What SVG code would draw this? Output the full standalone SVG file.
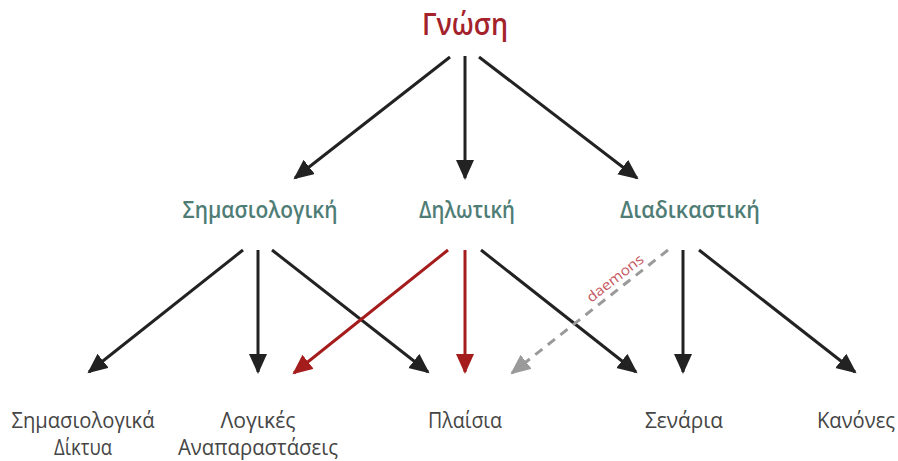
<svg xmlns="http://www.w3.org/2000/svg" width="898" height="461" viewBox="0 0 898 461">
  <style>
    text { font-family: "Open Sans", "Liberation Sans", sans-serif; text-anchor: middle; }
    .root { font-size: 30px; fill: #a3222b; font-weight: 600; }
    .mid { font-size: 23px; fill: #4f7d76; font-weight: 600; }
    .leaf { font-size: 21px; fill: #454545; }
    .lbl { font-size: 14px; fill: #c5575f; }
    .k { stroke: #222; stroke-width: 3; fill: none; }
    .r { stroke: #a51c1c; stroke-width: 3; fill: none; }
    .g { stroke: #9a9a9a; stroke-width: 3; fill: none; stroke-dasharray: 9 7; }
  </style>
  <defs>
    <marker id="ak" markerUnits="userSpaceOnUse" markerWidth="22" markerHeight="20" refX="18" refY="9" orient="auto">
      <path d="M0,0 L20,9 L0,18 Z" fill="#222"/>
    </marker>
    <marker id="ar" markerUnits="userSpaceOnUse" markerWidth="22" markerHeight="20" refX="18" refY="9" orient="auto">
      <path d="M0,0 L20,9 L0,18 Z" fill="#a51c1c"/>
    </marker>
    <marker id="ag" markerUnits="userSpaceOnUse" markerWidth="22" markerHeight="20" refX="18" refY="9" orient="auto">
      <path d="M0,0 L20,9 L0,18 Z" fill="#9a9a9a"/>
    </marker>
  </defs>

  <!-- connectors -->
  <g id="connectors">
    <line class="k" x1="450" y1="57" x2="295" y2="178" marker-end="url(#ak)"/>
    <line class="k" x1="465" y1="56" x2="465" y2="178" marker-end="url(#ak)"/>
    <line class="k" x1="479" y1="57" x2="637" y2="178" marker-end="url(#ak)"/>

    <line class="k" x1="243" y1="250" x2="89" y2="372" marker-end="url(#ak)"/>
    <line class="k" x1="258" y1="250" x2="258" y2="372" marker-end="url(#ak)"/>
    <line class="k" x1="272" y1="250" x2="428" y2="372" marker-end="url(#ak)"/>

    <line class="r" x1="448" y1="250" x2="294" y2="373" marker-end="url(#ar)"/>
    <line class="r" x1="465" y1="250" x2="465" y2="372" marker-end="url(#ar)"/>
    <line class="k" x1="481" y1="250" x2="636" y2="372" marker-end="url(#ak)"/>

    <line class="g" x1="668" y1="250" x2="512" y2="373" marker-end="url(#ag)"/>
    <line class="k" x1="683" y1="250" x2="683" y2="372" marker-end="url(#ak)"/>
    <line class="k" x1="699" y1="250" x2="855" y2="372" marker-end="url(#ak)"/>

    <text class="lbl" transform="translate(618,282) rotate(-38)" textLength="68" lengthAdjust="spacingAndGlyphs">daemons</text>
  </g>

  <g id="gnosi"><text class="root" x="465" y="35" textLength="86" lengthAdjust="spacingAndGlyphs">Γνώση</text></g>

  <g id="simasiologiki"><text class="mid" x="260" y="218" textLength="155" lengthAdjust="spacingAndGlyphs">Σημασιολογική</text></g>
  <g id="dilotiki"><text class="mid" x="467" y="218" textLength="96" lengthAdjust="spacingAndGlyphs">Δηλωτική</text></g>
  <g id="diadikastiki"><text class="mid" x="690" y="218" textLength="140" lengthAdjust="spacingAndGlyphs">Διαδικαστική</text></g>

  <g id="diktya">
    <text class="leaf" x="83" y="428" textLength="143" lengthAdjust="spacingAndGlyphs">Σημασιολογικά</text>
    <text class="leaf" x="83" y="455" textLength="58" lengthAdjust="spacingAndGlyphs">Δίκτυα</text>
  </g>
  <g id="logikes">
    <text class="leaf" x="258" y="428" textLength="75" lengthAdjust="spacingAndGlyphs">Λογικές</text>
    <text class="leaf" x="258" y="455" textLength="160" lengthAdjust="spacingAndGlyphs">Αναπαραστάσεις</text>
  </g>
  <g id="plaisia"><text class="leaf" x="465" y="428" textLength="74" lengthAdjust="spacingAndGlyphs">Πλαίσια</text></g>
  <g id="senaria"><text class="leaf" x="684" y="428" textLength="78" lengthAdjust="spacingAndGlyphs">Σενάρια</text></g>
  <g id="kanones"><text class="leaf" x="856" y="428" textLength="78" lengthAdjust="spacingAndGlyphs">Κανόνες</text></g>
</svg>
